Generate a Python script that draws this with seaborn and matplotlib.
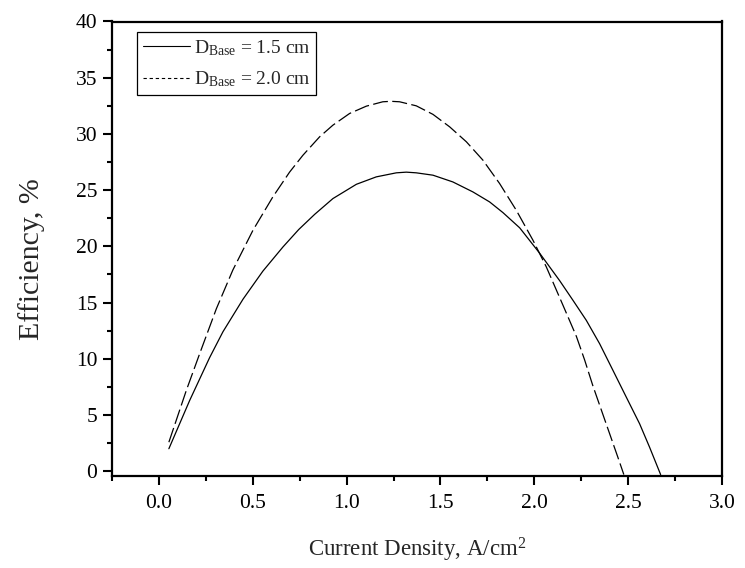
import matplotlib
matplotlib.use("Agg")
import matplotlib.pyplot as plt
from matplotlib.lines import Line2D
from matplotlib.ticker import MultipleLocator
import numpy as np
import pandas as pd
import seaborn as sns

# ---- data ----
x_d15 = [0.053, 0.164, 0.27, 0.341, 0.448, 0.554, 0.661, 0.745, 0.83, 0.927,
         1.052, 1.158, 1.265, 1.318, 1.371, 1.46, 1.566, 1.673, 1.762, 1.833,
         1.922, 2.028, 2.135, 2.206, 2.277, 2.348, 2.419, 2.49, 2.561, 2.614,
         2.673]
y_d15 = [2.0, 6.3, 10.1, 12.4, 15.3, 17.8, 19.95, 21.5, 22.85, 24.25,
         25.52, 26.18, 26.54, 26.6, 26.54, 26.33, 25.73, 24.84, 23.95, 23.0,
         21.65, 19.4, 16.95, 15.2, 13.42, 11.34, 8.97, 6.59, 4.22, 2.14,
         -0.3]

x_d20 = [0.053, 0.146, 0.217, 0.306, 0.394, 0.501, 0.607, 0.696, 0.767, 0.856,
         0.927, 1.016, 1.105, 1.193, 1.237, 1.282, 1.371, 1.46, 1.549, 1.638,
         1.726, 1.815, 1.904, 1.993, 2.064, 2.153, 2.224, 2.268, 2.312, 2.357,
         2.401, 2.445, 2.477]
y_d20 = [2.58, 7.19, 10.45, 14.45, 17.9, 21.43, 24.4, 26.6, 28.1, 29.74,
         30.78, 31.82, 32.47, 32.86, 32.9, 32.86, 32.5, 31.74, 30.63, 29.3,
         27.67, 25.59, 23.21, 20.54, 18.17, 14.75, 12.0, 9.9, 7.6, 5.45,
         3.35, 1.25, -0.3]

series_labels = [r"D$_{\mathrm{Base}}$ = 1.5 cm", r"D$_{\mathrm{Base}}$ = 2.0 cm"]
x_label = r"Current Density, A/cm$^{2}$"
y_label = "Efficiency, %"
x_ticks = [0.0, 0.5, 1.0, 1.5, 2.0, 2.5, 3.0]
y_ticks = [0, 5, 10, 15, 20, 25, 30, 35, 40]

df = pd.concat([
    pd.DataFrame({"x": x_d15, "y": y_d15, "series": series_labels[0]}),
    pd.DataFrame({"x": x_d20, "y": y_d20, "series": series_labels[1]}),
], ignore_index=True)

sns.set_style("ticks")
plt.rcParams["font.family"] = ["Liberation Serif", "DejaVu Serif"]
plt.rcParams["mathtext.fontset"] = "custom"
plt.rcParams["mathtext.rm"] = "Liberation Serif"
plt.rcParams["mathtext.it"] = "Liberation Serif:italic"
plt.rcParams["mathtext.bf"] = "Liberation Serif:bold"

fig = plt.figure(figsize=(7.45, 5.68), dpi=100)
ax = fig.add_axes([112 / 745, 1 - 475.7 / 568, (722 - 112) / 745, (475.7 - 21.5) / 568])

sns.lineplot(data=df, x="x", y="y", style="series", sort=False, estimator=None,
             dashes={series_labels[0]: "", series_labels[1]: (12, 3.5)},
             color="black", linewidth=0.9, legend=False, ax=ax)

ax.set_xlim(-0.25, 3.0)
ax.set_ylim(-0.4, 40)
ax.set_xticks(x_ticks)
ax.set_xticklabels([f"{v:.1f}" for v in x_ticks])
ax.set_yticks(y_ticks)
ax.xaxis.set_minor_locator(MultipleLocator(0.25))
ax.yaxis.set_minor_locator(MultipleLocator(2.5))

for s in ax.spines.values():
    s.set_linewidth(1.6)
    s.set_color("black")
    s.set_visible(True)

ax.tick_params(axis="both", which="major", direction="out", length=6.5, width=1.5,
               labelsize=15.5, colors="black")
ax.tick_params(axis="both", which="minor", direction="out", length=3.5, width=1.5,
               colors="black")
ax.tick_params(axis="x", which="major", pad=6.5)
ax.tick_params(axis="y", which="major", pad=4)
ax.tick_params(top=False, right=False, which="both")

ax.set_xlabel(x_label, fontsize=16.5)
ax.set_ylabel(y_label, fontsize=21.5)
ax.xaxis.set_label_coords(0.5, -0.132)
ax.yaxis.set_label_coords(-0.11, 0.477)

handles = [
    Line2D([], [], color="black", linewidth=0.8, linestyle="-"),
    Line2D([], [], color="black", linewidth=0.8, linestyle=(0, (3, 2.5))),
]
leg = ax.legend(handles, series_labels, loc="upper left",
                bbox_to_anchor=(0.0415, 0.976), borderaxespad=0,
                fontsize=14, frameon=True, fancybox=False, shadow=False,
                handlelength=2.4, handletextpad=0.2, borderpad=0.3,
                labelspacing=0.6)
leg.get_frame().set_edgecolor("black")
leg.get_frame().set_linewidth(0.9)
leg.get_frame().set_alpha(1)

ax.set_facecolor("white")
fig.patch.set_facecolor("white")
fig.savefig("out.png", dpi=100)
